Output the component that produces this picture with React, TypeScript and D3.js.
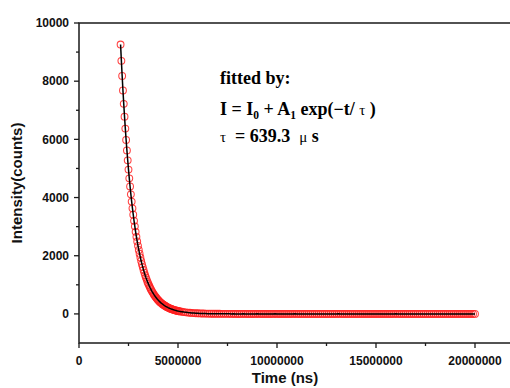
import React from "react";
import * as d3 from "d3";

// Decay part: sampled every 40 µs starting at 2.1 ms (times in ns)
const decayStartNs = 2100000;
const decayStepNs = 40000;
const decayCounts = [
  9260, 8700, 8180, 7680, 7220, 6780, 6370, 5980, 5620, 5280,
  4960, 4660, 4380, 4110, 3860, 3630, 3410, 3200, 3010, 2820,
  2650, 2490, 2340, 2200, 2070, 1940, 1820, 1710, 1610, 1510,
  1420, 1330, 1250, 1180, 1100, 1040, 975, 915, 860, 810,
  760, 715, 670, 630, 590, 555, 520, 490, 460, 430,
  405, 380, 358, 336, 316, 297, 279, 262, 246, 231,
  217, 204, 191, 180, 169, 159, 149, 140, 131, 123,
  116, 109, 102, 96, 90, 85,
];

// Tail part: sampled every 100 µs starting at 5.2 ms
const tailStartNs = 5200000;
const tailStepNs = 100000;
const tailCounts = [
  73, 62, 53, 45, 39, 33, 28, 24, 21, 18, 15, 13, 11, 9, 8, 7, 6, 5, 4, 4, 3, 3, 2, 2,
  2, 1, 2, 1, 1, 0, 1, 2, 0, 1, 1, 0, 0, 1, 2, 1, 0, 1, 0, 0, 1, 1, 0, 2, 1,
  0, 1, 0, 0, 1, 1, 0, 0, 2, 0, 1, 0, 1, 0, 0, 1, 0, 1, 1, 0, 0, 1, 0, 0, 1,
  1, 0, 0, 1, 0, 2, 0, 0, 1, 0, 0, 1, 0, 1, 0, 0, 1, 0, 0, 1, 1, 0, 0, 1, 0,
  0, 1, 0, 0, 1, 0, 1, 0, 0, 2, 0, 0, 1, 0, 0, 1, 0, 0, 1, 0, 1, 0, 0, 1, 0,
  1, 0, 0, 1, 0, 0, 1, 0, 1, 0, 0, 1, 0, 0, 1, 0, 0, 1, 0, 1, 0, 0, 1, 0, 0,
];

const xMajorTicks = [0, 5000000, 10000000, 15000000, 20000000];
const xMinorTicks = [2500000, 7500000, 12500000, 17500000];
const yMajorTicks = [0, 2000, 4000, 6000, 8000, 10000];
const yMinorTicks = [1000, 3000, 5000, 7000, 9000];

const xDomain = [0, 22000000];
const yDomain = [-1000, 10000];

const xLabel = "Time (ns)";
const yLabel = "Intensity(counts)";

const sans = "'Liberation Sans', Arial, Helvetica, sans-serif";
const serif = "'Liberation Serif', 'Times New Roman', Times, serif";

export default function App() {
  const left = 79, right = 514.6, top = 23, bottom = 343;
  const x = d3.scaleLinear().domain(xDomain).range([left, right]);
  const y = d3.scaleLinear().domain(yDomain).range([bottom, top]);

  const points: [number, number][] = [
    ...decayCounts.map((c, i) => [decayStartNs + i * decayStepNs, c] as [number, number]),
    ...tailCounts.map((c, i) => [tailStartNs + i * tailStepNs, c] as [number, number]),
  ];

  const line = d3
    .line<[number, number]>()
    .x((d) => x(d[0]))
    .y((d) => y(d[1]));

  const axisColor = "#1a1a1a";

  return (
    <svg
      width={510}
      height={388}
      style={{ position: "absolute", left: 0, top: 0, background: "#fff" }}
    >
      <rect x={0} y={0} width={510} height={388} fill="#fff" />
      {/* frame */}
      <rect
        x={left}
        y={top}
        width={right - left}
        height={bottom - top}
        fill="none"
        stroke={axisColor}
        strokeWidth={1.5}
      />
      {/* x ticks */}
      {xMajorTicks.map((t) => (
        <g key={"xm" + t}>
          <line x1={x(t)} x2={x(t)} y1={bottom} y2={bottom + 5} stroke={axisColor} strokeWidth={1.3} />
          <text
            x={x(t)}
            y={365}
            textAnchor="middle"
            fontFamily={sans}
            fontWeight="bold"
            fontSize={12}
            fill="#111"
          >
            {t}
          </text>
        </g>
      ))}
      {xMinorTicks.map((t) => (
        <line key={"xn" + t} x1={x(t)} x2={x(t)} y1={bottom} y2={bottom + 3} stroke={axisColor} strokeWidth={1.3} />
      ))}
      {/* y ticks */}
      {yMajorTicks.map((t) => (
        <g key={"ym" + t}>
          <line x1={left - 5} x2={left} y1={y(t)} y2={y(t)} stroke={axisColor} strokeWidth={1.3} />
          <text
            x={69}
            y={y(t) + 4.3}
            textAnchor="end"
            fontFamily={sans}
            fontWeight="bold"
            fontSize={12}
            fill="#111"
          >
            {t}
          </text>
        </g>
      ))}
      {yMinorTicks.map((t) => (
        <line key={"yn" + t} x1={left - 3} x2={left} y1={y(t)} y2={y(t)} stroke={axisColor} strokeWidth={1.3} />
      ))}
      {/* axis labels */}
      <text x={285} y={383} textAnchor="middle" fontFamily={sans} fontWeight="bold" fontSize={15} fill="#111">
        {xLabel}
      </text>
      <text
        transform="translate(22,183) rotate(-90)"
        textAnchor="middle"
        fontFamily={sans}
        fontWeight="bold"
        fontSize={15}
        fill="#111"
      >
        {yLabel}
      </text>
      {/* data circles */}
      {points.map((p, i) => (
        <circle
          key={i}
          cx={x(p[0])}
          cy={y(p[1])}
          r={3.4}
          fill="none"
          stroke="#ff2020"
          strokeWidth={1.05}
          strokeOpacity={0.85}
        />
      ))}
      {/* fit line */}
      <path d={line(points) || ""} fill="none" stroke="#000" strokeWidth={1.5} />
      {/* annotation */}
      <text x={220} y={84} fontFamily={serif} fontWeight="bold" fontSize={18} fill="#000">
        fitted by:
      </text>
      <text x={220} y={115} fontFamily={serif} fontWeight="bold" fontSize={18} fill="#000" xmlSpace="preserve">
        I = I
        <tspan fontSize={11.5} dy={4}>0</tspan>
        <tspan dy={-4}> + A</tspan>
        <tspan fontSize={11.5} dy={4}>1</tspan>
        <tspan dy={-4}> exp(−t/ </tspan>
        <tspan fontWeight="normal" fontSize={15}>τ</tspan>
        <tspan> )</tspan>
      </text>
      <text x={220} y={142} fontFamily={serif} fontWeight="bold" fontSize={18} fill="#000" xmlSpace="preserve">
        <tspan fontWeight="normal" fontSize={15}>τ</tspan>
        <tspan>  = 639.3  </tspan>
        <tspan fontWeight="normal" fontSize={15}>μ</tspan>
        <tspan> s</tspan>
      </text>
    </svg>
  );
}
